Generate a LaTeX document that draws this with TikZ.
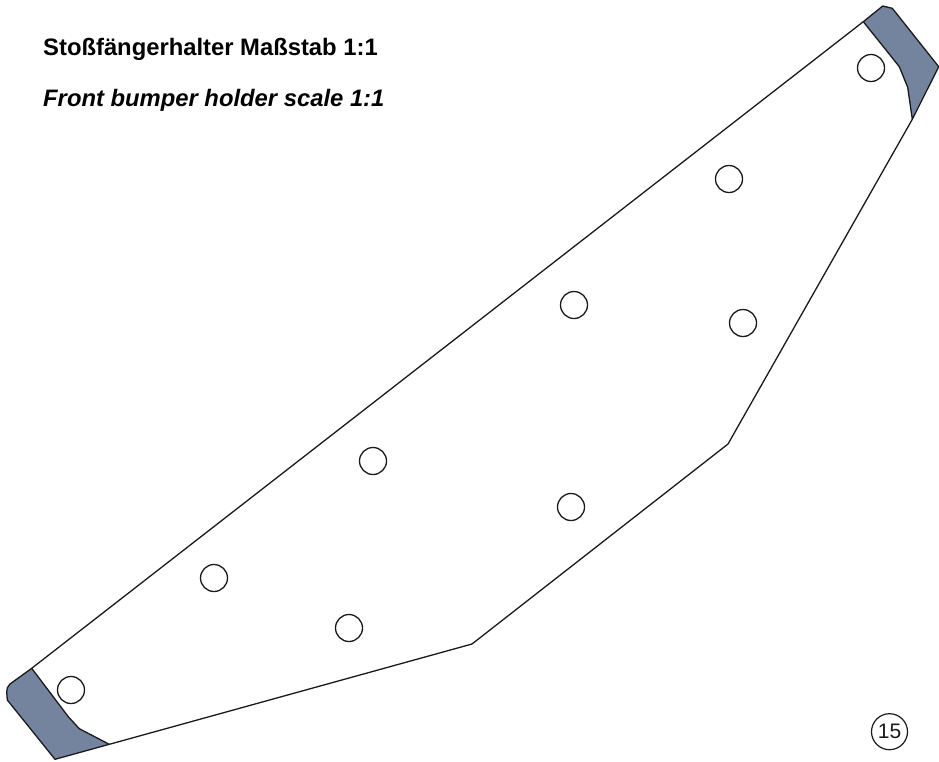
\documentclass[tikz,border=0pt]{standalone}
\usepackage{fontspec}
\setmainfont{Liberation Sans}
\definecolor{clipfill}{HTML}{74849F}
\definecolor{ink}{HTML}{1A1A1A}
\tikzset{
  part/.style={draw=ink,line width=1.3pt,line join=round},
  hole/.style={circle,draw=ink,line width=1.3pt,fill=white,minimum size=27pt,inner sep=0pt},
  clip piece/.style={part,fill=clipfill},
  title/.style={anchor=base west,inner sep=0pt,font=\fontsize{23.8pt}{26pt}\selectfont\bfseries,text=black},
  badge/.style={circle,draw=ink,line width=1.2pt,minimum size=36pt,inner sep=0pt,font=\fontsize{21pt}{23pt}\selectfont,text=ink}
}
\begin{document}
\begin{tikzpicture}[x=1pt,y=-1pt]
\useasboundingbox (0,0) rectangle (939,761);
\fill[white] (0,0) rectangle (939,761);
% outline
\draw[part] (31.7,668.3) -- (863.3,21.7)
  (912.3,119.3) -- (728,444) -- (472,644) -- (109.3,744.3);
% end pieces
\draw[clip piece] (863.3,21.7) -- (882.7,6) -- (892.3,8.3) -- (938.7,66.7) -- (912.3,119.3)
  -- (907.7,87.3) -- (899.3,66.7) -- (890,55) -- cycle;
\draw[clip piece] (31.7,668.3) -- (10,684) .. controls (7.5,686.5) and (6.5,689) .. (6.7,692)
  -- (7.3,700) -- (55,759.3) -- (109.3,744.3) -- (79.3,728.7) -- (68.3,716.7) -- cycle;
% holes
\node[hole] (h1) at (871,68) {};
\node[hole] (h2) at (729,179) {};
\node[hole] (h3) at (574,305) {};
\node[hole] (h4) at (743,323) {};
\node[hole] (h5) at (373,461) {};
\node[hole] (h6) at (571,507) {};
\node[hole] (h7) at (214,578) {};
\node[hole] (h8) at (349,628) {};
\node[hole] (h9) at (71,690) {};
% text
\node[title] (t1) at (43,55) {Stoßfängerhalter Maßstab 1:1};
\node[title,font=\fontsize{23.8pt}{26pt}\selectfont\bfseries\itshape] (t2) at (43,106.7) {Front bumper holder scale 1:1};
\node[badge] (b) at (889.5,731.7) {15};
\end{tikzpicture}
\end{document}
